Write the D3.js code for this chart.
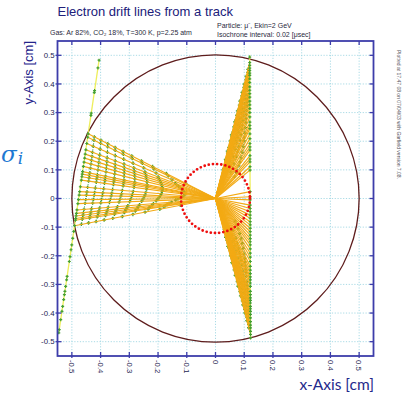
<!DOCTYPE html>
<html>
<head>
<meta charset="utf-8">
<script src="https://cdn.jsdelivr.net/npm/d3@7/dist/d3.min.js"></script>
<style>
  html, body { margin: 0; padding: 0; background: #ffffff; }
  svg { display: block; }
</style>
</head>
<body>
<svg id="chart" width="411" height="395"></svg>
<script>
// Axis ticks (cm)
const tickValues = [-0.5, -0.4, -0.3, -0.2, -0.1, 0, 0.1, 0.2, 0.3, 0.4, 0.5];
const tickLabels = ["-0.5", "-0.4", "-0.3", "-0.2", "-0.1", "0", "0.1", "0.2", "0.3", "0.4", "0.5"];

// Drift cell: tube radius and wire region (cm)
const tubeRadius = 0.5;
const wireRegionRadius = 0.12;
const wirePos = [0, 0];

// Track end points [x, y] (cm)
const leftTrackEnds = [[-0.545, -0.465], [-0.405, 0.485]];
const rightTrackEnds = [[0.122, -0.490], [0.119, 0.500]];

// Cluster heights along each track (y, cm)
const leftClusterY = [
  0.483, 0.456, 0.377, 0.370, 0.298, 0.290,
  0.226, 0.214, 0.192, 0.170, 0.155, 0.141, 0.127, 0.112, 0.094, 0.085,
  0.076, 0.064, 0.041, 0.024, 0.012, -0.004, -0.018, -0.040, -0.052,
  -0.061, -0.070, -0.076,
  -0.095, -0.115, -0.139, -0.162, -0.179, -0.203, -0.220, -0.272, -0.284,
  -0.307, -0.324, -0.336, -0.353, -0.377, -0.394, -0.423, -0.458, -0.469
];
const rightClusterY = [
  0.494, 0.475, 0.465, 0.455, 0.447, 0.438, 0.430, 0.418, 0.405, 0.390,
  0.378, 0.366, 0.354, 0.340, 0.327, 0.314, 0.300, 0.285, 0.267, 0.255,
  0.244, 0.226, 0.209, 0.192, 0.180, 0.169, 0.150, 0.138, 0.128, 0.111,
  0.099, 0.024, 0.006,
  -0.005, -0.023, -0.035, -0.046, -0.058, -0.069, -0.081, -0.092, -0.104,
  -0.116, -0.128, -0.140, -0.151, -0.162, -0.176, -0.191, -0.205, -0.220,
  -0.237, -0.250, -0.262, -0.274, -0.284, -0.295, -0.307, -0.324, -0.336,
  -0.347, -0.356, -0.365, -0.377, -0.385, -0.394, -0.405, -0.417, -0.430,
  -0.442, -0.452, -0.464, -0.475, -0.487
];

// Isochrone step: r^2 decrease per 0.02 usec interval (cm^2)
const isochroneStep = 0.0234;

// Header texts
const titleText = "Electron drift lines from a track";
const gasText = "Gas: Ar 82%, CO\u2082 18%, T=300 K, p=2.25 atm";
const particleText = "Particle: \u03bc\u207b, Ekin=2 GeV";
const isoText = "Isochrone interval: 0.02 [\u03bcsec]";
const stampText = "Plotted at 17.47 08 on 07/04/03 with Garfield version 7.08.";

const svg = d3.select("#chart");
const x = d3.scaleLinear().domain([-0.55, 0.55]).range([57.5, 373.5]);
const y = d3.scaleLinear().domain([-0.55, 0.55]).range([356, 41]);
const frame = { x0: x(-0.55), x1: x(0.55), y0: y(0.55), y1: y(-0.55) };

// Grid
const grid = svg.append("g").attr("stroke", "#9fd6e2").attr("stroke-width", 0.9)
  .attr("stroke-dasharray", "1.2,1.6");
tickValues.forEach(v => {
  grid.append("line").attr("x1", x(v)).attr("x2", x(v)).attr("y1", frame.y0).attr("y2", frame.y1);
  grid.append("line").attr("y1", y(v)).attr("y2", y(v)).attr("x1", frame.x0).attr("x2", frame.x1);
});

// Tube wall
svg.append("circle").attr("cx", x(wirePos[0])).attr("cy", y(wirePos[1]))
  .attr("r", x(tubeRadius) - x(0)).attr("fill", "none")
  .attr("stroke", "#5e1c1c").attr("stroke-width", 1.3);

// Build clusters along a track
function clustersOn(ends, ys) {
  const [a, b] = ends;
  return ys.map(cy => {
    const t = (cy - a[1]) / (b[1] - a[1]);
    return [a[0] + t * (b[0] - a[0]), cy];
  });
}
const tracks = [
  { ends: leftTrackEnds, clusters: clustersOn(leftTrackEnds, leftClusterY) },
  { ends: rightTrackEnds, clusters: clustersOn(rightTrackEnds, rightClusterY) }
];

// Drift line and isochrone points for each cluster inside the tube
tracks.forEach(tr => {
  tr.drifts = tr.clusters
    .filter(p => Math.hypot(p[0] - wirePos[0], p[1] - wirePos[1]) < tubeRadius)
    .sort((p, q) => q[1] - p[1])
    .map(p => {
      const r0 = Math.hypot(p[0], p[1]);
      const pts = [];
      for (let k = 1; ; k++) {
        const r2 = r0 * r0 - isochroneStep * k;
        if (r2 <= 0) break;
        const r = Math.sqrt(r2);
        if (r < 0.1) break;
        pts.push({ k, p: [p[0] * r / r0, p[1] * r / r0] });
      }
      return { start: p, iso: pts };
    });
});

// Isochrones: join equal-time points of neighbouring drift lines
const isoG = svg.append("g").attr("stroke", "#3f9a3c").attr("stroke-width", 0.9)
  .attr("stroke-dasharray", "1.3,1.7").attr("fill", "none");
tracks.forEach(tr => {
  for (let i = 0; i + 1 < tr.drifts.length; i++) {
    const a = tr.drifts[i], b = tr.drifts[i + 1];
    a.iso.forEach(pa => {
      const pb = b.iso.find(q => q.k === pa.k);
      if (pb) {
        isoG.append("line")
          .attr("x1", x(pa.p[0])).attr("y1", y(pa.p[1]))
          .attr("x2", x(pb.p[0])).attr("y2", y(pb.p[1]));
      }
    });
  }
});

// Isochrone crossing marks
const markG = svg.append("g").attr("stroke", "#44a032").attr("stroke-width", 1.3);
function plus(g, px, py, s) {
  g.append("path").attr("d", `M${px - s},${py}H${px + s}M${px},${py - s}V${py + s}`);
}
tracks.forEach(tr => {
  tr.drifts.forEach(d => d.iso.forEach(q => plus(markG, x(q.p[0]), y(q.p[1]), 1.7)));
});

// Drift lines, drawn over the isochrone marks
const driftG = svg.append("g").attr("stroke", "#f3aa14").attr("stroke-width", 1.15);
tracks.forEach(tr => tr.drifts.forEach(d => {
  driftG.append("line")
    .attr("x1", x(d.start[0])).attr("y1", y(d.start[1]))
    .attr("x2", x(wirePos[0])).attr("y2", y(wirePos[1]));
}));

// Tracks
tracks.forEach(tr => {
  svg.append("line")
    .attr("x1", x(tr.ends[0][0])).attr("y1", y(tr.ends[0][1]))
    .attr("x2", x(tr.ends[1][0])).attr("y2", y(tr.ends[1][1]))
    .attr("stroke", "#ecec4a").attr("stroke-width", 1.3).attr("stroke-opacity", 0.9);
});

// Cluster marks on the tracks
const clusterG = svg.append("g").attr("stroke", "#44a032").attr("stroke-width", 1.2);
tracks.forEach(tr => {
  tr.clusters.forEach(p => plus(clusterG, x(p[0]), y(p[1]), 1.5));
});

// Wire region
svg.append("circle").attr("cx", x(wirePos[0])).attr("cy", y(wirePos[1]))
  .attr("r", x(wireRegionRadius) - x(0)).attr("fill", "none")
  .attr("stroke", "#ee0f0f").attr("stroke-width", 2.8)
  .attr("stroke-linecap", "round").attr("stroke-dasharray", "0,4.2");

// Frame
svg.append("rect").attr("x", frame.x0).attr("y", frame.y0)
  .attr("width", frame.x1 - frame.x0).attr("height", frame.y1 - frame.y0)
  .attr("fill", "none").attr("stroke", "#3d3daa").attr("stroke-width", 1.8);

// Ticks on all four sides
const tickG = svg.append("g").attr("stroke", "#3d3daa").attr("stroke-width", 1.3);
tickValues.forEach(v => {
  tickG.append("line").attr("x1", x(v)).attr("x2", x(v)).attr("y1", frame.y0).attr("y2", frame.y0 + 4);
  tickG.append("line").attr("x1", x(v)).attr("x2", x(v)).attr("y1", frame.y1 - 4).attr("y2", frame.y1 + 2);
  tickG.append("line").attr("y1", y(v)).attr("y2", y(v)).attr("x1", frame.x0 - 2).attr("x2", frame.x0 + 4);
  tickG.append("line").attr("y1", y(v)).attr("y2", y(v)).attr("x1", frame.x1 - 4).attr("x2", frame.x1);
});

// Tick labels
const labelFont = "Liberation Sans, Arial, sans-serif";
tickValues.forEach((v, i) => {
  svg.append("text").attr("x", 54.5).attr("y", y(v) + 2.8)
    .attr("text-anchor", "end").attr("font-family", labelFont).attr("font-size", 7.8)
    .attr("fill", "#1c1c50").text(tickLabels[i]);
  svg.append("text")
    .attr("transform", `translate(${x(v) - 2.8},${frame.y1 + 4}) rotate(90)`)
    .attr("text-anchor", "start").attr("font-family", labelFont).attr("font-size", 7.8)
    .attr("fill", "#1c1c50").text(tickLabels[i]);
});

// Axis titles
svg.append("text").attr("transform", "translate(33,41) rotate(-90)")
  .attr("text-anchor", "end").attr("font-family", labelFont).attr("font-size", 13)
  .attr("fill", "#24248a").text("y-Axis [cm]");
svg.append("text").attr("x", 374).attr("y", 390)
  .attr("text-anchor", "end").attr("font-family", "Lato, Open Sans, sans-serif").attr("font-size", 15.5)
  .attr("fill", "#1f2a8c").text("x-Axis [cm]");

// Resolution symbol
const sig = svg.append("text").attr("x", 1).attr("y", 162)
  .attr("font-family", "DejaVu Serif, serif").attr("font-style", "italic")
  .attr("fill", "#1e78d2");
sig.append("tspan").attr("font-size", 23).text("\u03c3");
sig.append("tspan").attr("font-size", 17).attr("dy", 2).attr("dx", 1).text("i");

// Title and run information
svg.append("text").attr("x", 57.5).attr("y", 15.5)
  .attr("font-family", labelFont).attr("font-size", 13)
  .attr("fill", "#20207a").text(titleText);
svg.append("text").attr("x", 50).attr("y", 35)
  .attr("font-family", labelFont).attr("font-size", 7)
  .attr("fill", "#2a2a40").text(gasText);
svg.append("text").attr("x", 217).attr("y", 28)
  .attr("font-family", labelFont).attr("font-size", 7)
  .attr("fill", "#2a2a40").text(particleText);
svg.append("text").attr("x", 217).attr("y", 36.5)
  .attr("font-family", labelFont).attr("font-size", 7)
  .attr("fill", "#2a2a40").text(isoText);
svg.append("text").attr("transform", "translate(396.5,50) rotate(90)")
  .attr("font-family", labelFont).attr("font-size", 5)
  .attr("fill", "#555560").text(stampText);
</script>
</body>
</html>
